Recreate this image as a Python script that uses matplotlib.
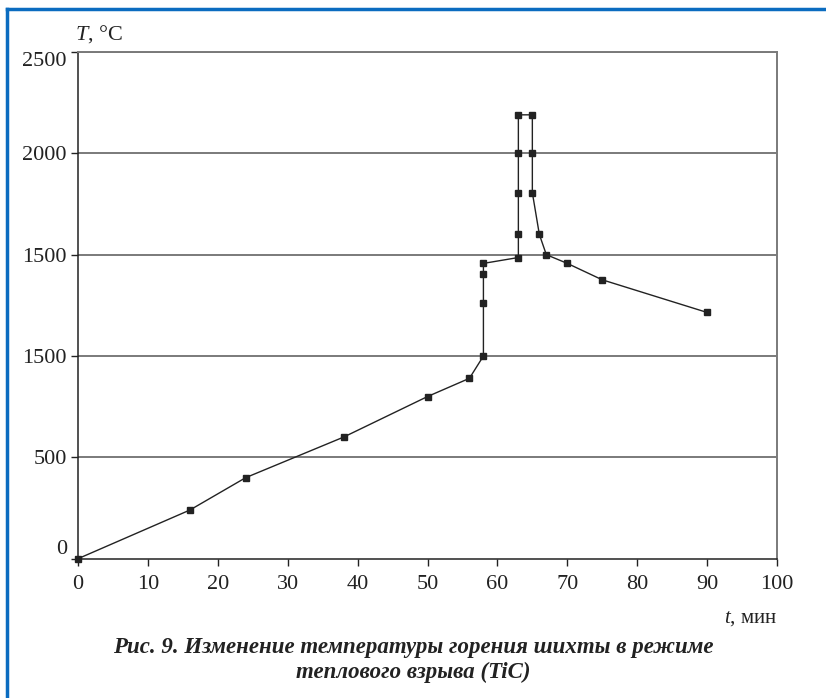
import matplotlib
matplotlib.use("Agg")
import matplotlib.pyplot as plt
from matplotlib.lines import Line2D

# data
t_min = [0, 16, 24, 38, 50, 56, 58, 58, 58, 58, 63, 63, 63, 63, 63,
         65, 65, 65, 66, 67, 70, 75, 90]
temp_c = [0, 240, 400, 600, 800, 890, 1000, 1260, 1405, 1457, 1486, 1600, 1806, 2000, 2190,
          2190, 2000, 1806, 1600, 1500, 1457, 1376, 1215]
x_ticks = [0, 10, 20, 30, 40, 50, 60, 70, 80, 90, 100]
y_ticks = [0, 500, 1000, 1500, 2000, 2500]
y_labels = ["0", "500", "1500", "1500", "2000", "2500"]  # as printed in the source

plt.rcParams['font.family'] = ['Liberation Serif', 'DejaVu Serif']
plt.rcParams['mathtext.fontset'] = 'custom'
plt.rcParams['mathtext.it'] = 'Liberation Serif:italic'
plt.rcParams['mathtext.rm'] = 'Liberation Serif'

fig = plt.figure(figsize=(8.26, 6.98), dpi=100)
ax = fig.add_axes([78/826, 1-558.7/698, (777-78)/826, (558.7-52)/698])

# horizontal grid lines
for yv in y_ticks[1:]:
    ax.axhline(yv, color='#7a7a7a', lw=1.4, zorder=1)

ax.plot(t_min, temp_c, color='#222222', lw=1.0, marker='s', markersize=5,
        markerfacecolor='#222222', markeredgecolor='#222222', zorder=3, clip_on=False)

ax.set_xlim(0, 100)
ax.set_ylim(0, 2500)
ax.set_xticks(x_ticks)
ax.set_yticks(y_ticks)
ax.set_yticklabels(y_labels)
ax.tick_params(axis='both', direction='out', length=5, width=1, labelsize=16, colors='#222222')
ax.tick_params(axis='x', pad=7)
ax.tick_params(axis='y', pad=3)

# end labels sit a little off their ticks in the source
ylabs = ax.get_yticklabels()
ylabs[0].set_va('bottom')
ylabs[-1].set_va('top')

for s in ['left', 'bottom']:
    ax.spines[s].set_color('#222222')
    ax.spines[s].set_linewidth(1.1)
for s in ['top', 'right']:
    ax.spines[s].set_color('#7a7a7a')
    ax.spines[s].set_linewidth(1.4)

fig.text(75/826, 1-34/698, "$T$, °C", fontsize=16, ha='left', va='center', color='#222222')
fig.text(777/826, 1-619/698, "$t$, мин", fontsize=15, ha='right', va='center', color='#222222')

fig.text(0.5, 1-648/698, "Рис. 9. Изменение температуры горения шихты в режиме",
         fontsize=16.5, fontweight='bold', fontstyle='italic', ha='center', va='center', color='#222222')
fig.text(0.5, 1-672/698, "теплового взрыва (TiC)",
         fontsize=16.5, fontweight='bold', fontstyle='italic', ha='center', va='center', color='#222222')

# blue frame on top and left
fig.add_artist(Line2D([7/826, 1], [1-9/698, 1-9/698], color='#0b6cc0', lw=2.5))
fig.add_artist(Line2D([7/826, 7/826], [0, 1-9/698], color='#0b6cc0', lw=2.5))

fig.savefig("out.png", dpi=100)
